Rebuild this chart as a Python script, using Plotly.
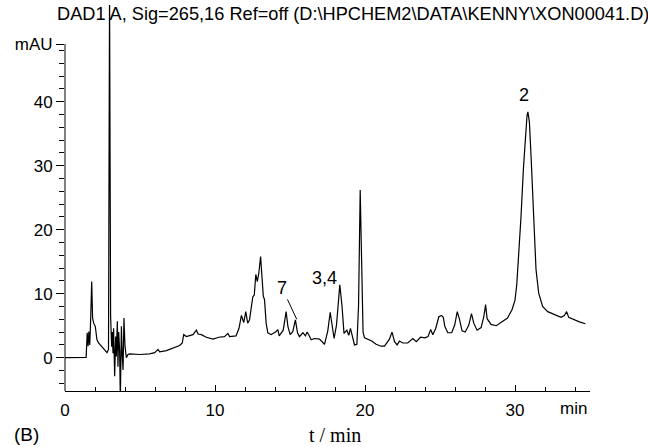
import plotly.graph_objects as go

# Retention time (min) and absorbance (mAU)
time_min = [0.0, 0.5, 1.0, 1.41, 1.48, 1.54, 1.59, 1.65, 1.71, 1.78, 1.84, 1.91, 2.02, 2.13, 2.24,
            2.40, 2.62, 2.80, 2.90, 2.97, 3.04, 3.11, 3.15, 3.20, 3.24, 3.31, 3.38, 3.42, 3.49,
            3.53, 3.58, 3.64, 3.69, 3.76, 3.82, 3.87, 3.93, 4.00, 4.09, 4.20, 4.31, 4.98, 5.64,
            5.98, 6.20, 6.31, 6.76, 7.20, 7.64, 7.82, 7.91, 8.09, 8.31, 8.53, 8.76, 8.87, 9.09,
            9.42, 9.87, 10.25, 10.63, 10.86, 10.97, 11.40, 11.60, 11.76, 11.86, 11.92, 12.05,
            12.18, 12.30, 12.52, 12.62, 12.72, 12.82, 12.92, 13.04, 13.13, 13.22, 13.30, 13.41,
            13.52, 13.74, 14.08, 14.19, 14.28, 14.55, 14.74, 14.86, 15.01, 15.19, 15.36, 15.50,
            15.63, 15.86, 16.03, 16.14, 16.25, 16.41, 16.63, 16.97, 17.30, 17.52, 17.68, 17.81,
            17.94, 18.10, 18.20, 18.32, 18.47, 18.60, 18.79, 18.92, 19.03, 19.15, 19.30, 19.46,
            19.57, 19.68, 19.80, 19.87, 19.97, 20.25, 20.45, 20.74, 21.07, 21.30, 21.50, 21.63,
            21.80, 21.97, 22.14, 22.30, 22.52, 22.85, 23.19, 23.42, 23.70, 24.00, 24.20, 24.38,
            24.52, 24.72, 24.92, 25.10, 25.22, 25.32, 25.52, 25.78, 25.98, 26.15, 26.30, 26.47,
            26.68, 26.92, 27.10, 27.25, 27.47, 27.74, 27.92, 28.04, 28.14, 28.40, 28.75, 29.10,
            29.50, 29.80, 30.00, 30.12, 30.24, 30.40, 30.56, 30.69, 30.80, 30.86, 30.96, 31.07,
            31.18, 31.29, 31.40, 31.58, 31.84, 32.18, 32.62, 33.07, 33.29, 33.44, 33.58, 33.96,
            34.29, 34.69]
absorbance_mau = [0.0, 0.0, 0.0, 0.05, 3.9, 1.8, 4.1, 2.0, 5.9, 11.9, 6.2, 5.4, 4.9, 2.8, 2.3,
                  1.9, 1.4, 0.8, 1.3, 57.0, 6.5, 1.7, 4.0, 0.7, 4.6, -2.9, 3.3, 0.2, 5.7,
                  -1.4, 4.0, 1.2, -6.5, 4.9, 0.2, -1.9, 6.2, 1.8, 0.0, 0.5, 0.6, 0.5, 0.6,
                  0.8, 1.3, 0.9, 1.1, 1.5, 1.9, 2.3, 3.6, 3.3, 3.5, 3.6, 4.3, 3.7, 3.6,
                  3.2, 2.9, 3.2, 3.3, 3.8, 3.3, 3.4, 4.6, 6.6, 5.9, 5.5, 7.2,
                  5.4, 5.9, 9.5, 9.8, 13.0, 11.9, 13.2, 15.8, 12.2, 9.6, 9.1, 5.4,
                  3.9, 3.6, 4.1, 4.4, 3.4, 4.3, 7.2, 4.9, 3.6, 4.1, 5.9, 3.9,
                  3.3, 3.9, 3.4, 4.0, 3.6, 2.8, 3.0, 2.9, 2.1, 4.2, 7.1, 4.9,
                  3.0, 5.1, 8.3, 11.4, 8.0, 3.8, 4.3, 3.5, 4.6, 3.6, 2.0, 2.1,
                  8.2, 26.2, 11.7, 4.0, 3.1, 2.8, 2.6, 2.1, 1.8, 1.8, 2.5, 2.9,
                  4.0, 2.5, 2.0, 2.6, 2.3, 2.3, 3.0, 2.5, 3.2, 3.1, 3.3, 4.4,
                  3.6, 4.6, 6.4, 6.6, 6.3, 4.9, 3.9, 3.9, 5.1, 7.2, 6.0, 4.2,
                  4.0, 5.1, 6.9, 5.4, 4.3, 4.7, 6.4, 8.3, 6.1, 5.2, 5.0, 5.5,
                  6.2, 7.5, 9.0, 11.5, 15.5, 22.0, 29.5, 35.0, 37.8, 38.4, 36.8, 31.5,
                  25.2, 19.0, 13.8, 10.1, 8.0, 7.2, 6.7, 6.3, 6.6, 7.2, 6.3, 5.9,
                  5.6, 5.3]

x_major = [0, 10, 20, 30]
x_minor = [2, 4, 6, 8, 12, 14, 16, 18, 22, 24, 26, 28, 32, 34]
y_major = [0, 10, 20, 30, 40, 49]
y_major_text = ["0", "10", "20", "30", "40", "mAU"]
y_minor = [-4, -2, 2, 4, 6, 8, 12, 14, 16, 18, 22, 24, 26, 28, 32, 34, 36, 38, 42, 44, 46, 48]

peak_labels = ["2", "3,4", "7"]
peak_label_t = [30.63, 17.27, 14.47]
peak_label_y = [41.1, 12.5, 10.9]

title_text = r"DAD1 A, Sig=265,16 Ref=off (D:\HPCHEM2\DATA\KENNY\XON00041.D)"

SANS = "Liberation Sans, Arial, sans-serif"
SERIF = "Liberation Serif, Times New Roman, serif"

fig = go.Figure()
fig.add_trace(go.Scatter(x=time_min, y=absorbance_mau, mode="lines",
                         line=dict(color="black", width=1.2), hoverinfo="skip"))

fig.update_layout(
    width=648, height=447,
    margin=dict(l=65, r=58, t=5, b=56),
    paper_bgcolor="white", plot_bgcolor="white",
    showlegend=False,
    font=dict(family=SANS, size=18, color="black"),
    xaxis=dict(range=[0, 35], showline=True, linecolor="black", linewidth=1,
               showgrid=False, zeroline=False,
               tickmode="array", tickvals=x_major, ticks="inside", ticklen=6,
               tickcolor="black", tickwidth=1, ticklabelstandoff=4,
               minor=dict(tickvals=x_minor, ticks="inside", ticklen=4, tickcolor="black"),
               tickfont=dict(family=SANS, size=17)),
    yaxis=dict(range=[-5.2, 55.1], showline=False, showgrid=False, zeroline=False,
               tickmode="array", tickvals=y_major, ticktext=y_major_text,
               ticks="outside", ticklen=8, tickcolor="black", tickwidth=1,
               minor=dict(tickvals=y_minor, ticks="outside", ticklen=5, tickcolor="black"),
               tickfont=dict(family=SANS, size=17)),
)

# y axis line ends at the mAU cap
fig.add_shape(type="line", xref="paper", x0=0, x1=0, yref="y", y0=-5.2, y1=49,
              line=dict(color="black", width=1))

fig.add_annotation(text=title_text, xref="paper", yref="paper", x=0.549, y=0.9767,
                   xanchor="center", yanchor="middle",
                   showarrow=False, font=dict(family=SANS, size=18.2))
fig.add_annotation(text="min", xref="x", yref="paper", x=33.9, y=0, yshift=-17,
                   xanchor="center", yanchor="middle", showarrow=False,
                   font=dict(family=SANS, size=17))
fig.add_annotation(text="(B)", xref="paper", yref="paper", x=-0.0724, y=-0.113,
                   xanchor="center", yanchor="middle",
                   showarrow=False, font=dict(family=SANS, size=19))
fig.add_annotation(text="t / min", xref="paper", yref="paper", x=0.514, y=-0.113,
                   xanchor="center", yanchor="middle",
                   showarrow=False, font=dict(family=SERIF, size=20))

for lbl, tx, ty in zip(peak_labels, peak_label_t, peak_label_y):
    if lbl == "7":
        fig.add_annotation(text=lbl, x=15.45, y=6.0, ax=tx, ay=ty, axref="x", ayref="y",
                           showarrow=True, arrowhead=0, arrowwidth=1, arrowcolor="black",
                           standoff=0, font=dict(family=SANS, size=18))
    else:
        fig.add_annotation(text=lbl, x=tx, y=ty, showarrow=False,
                           xanchor="center", yanchor="middle",
                           font=dict(family=SANS, size=18))

fig.write_html("out.html", config={"displayModeBar": False},
               post_script="document.body.style.margin='0';document.body.style.overflow='hidden';")
